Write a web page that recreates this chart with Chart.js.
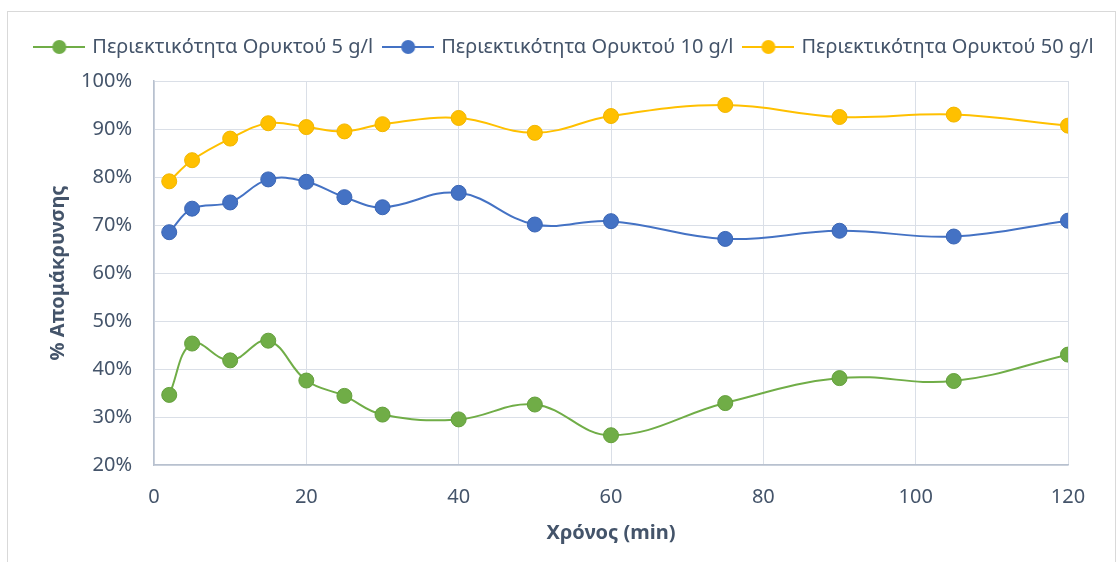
<!DOCTYPE html>
<html>
<head>
<meta charset="utf-8">
<script src="https://cdn.jsdelivr.net/npm/chart.js@4.4.1/dist/chart.umd.min.js"></script>
<style>
  html, body { margin: 0; padding: 0; background: #fff; }
  #wrap { position: relative; width: 1118px; height: 562px; }
</style>
</head>
<body>
<div id="wrap"><canvas id="chart"></canvas></div>
<script>
// time in minutes
const times = [2, 5, 10, 15, 20, 25, 30, 40, 50, 60, 75, 90, 105, 120];
// % removal for each mineral content
const removal5 = [34.6, 45.3, 41.8, 45.9, 37.6, 34.4, 30.5, 29.5, 32.6, 26.2, 32.9, 38.1, 37.5, 43.0];
const removal10 = [68.5, 73.4, 74.7, 79.5, 79.0, 75.8, 73.7, 76.7, 70.1, 70.8, 67.1, 68.8, 67.6, 70.9];
const removal50 = [79.1, 83.5, 88.0, 91.2, 90.4, 89.5, 91.0, 92.3, 89.2, 92.7, 95.0, 92.5, 93.0, 90.7];
const seriesNames = ['Περιεκτικότητα Ορυκτού 5 g/l', 'Περιεκτικότητα Ορυκτού 10 g/l', 'Περιεκτικότητα Ορυκτού 50 g/l'];
const seriesColors = ['#70AD47', '#4472C4', '#FFC000'];
const seriesBorders = ['#64A03C', '#3B66B5', '#F2B600'];

const textColor = '#44546A';
const fontFamily = "'Noto Sans', sans-serif";

// little line + marker icon for the legend
function legendIcon(color) {
  const c = document.createElement('canvas');
  c.width = 52;
  c.height = 16;
  const g = c.getContext('2d');
  g.strokeStyle = color;
  g.lineWidth = 2;
  g.beginPath();
  g.moveTo(0, 8);
  g.lineTo(52, 8);
  g.stroke();
  g.fillStyle = color;
  g.beginPath();
  g.arc(26, 8, 7, 0, Math.PI * 2);
  g.fill();
  return c;
}

const toPoints = (vals) => vals.map((v, i) => ({ x: times[i], y: v }));
const allValues = [removal5, removal10, removal50];

const datasets = allValues.map((vals, i) => ({
  label: seriesNames[i],
  data: toPoints(vals),
  borderColor: seriesColors[i],
  backgroundColor: seriesColors[i],
  pointBackgroundColor: seriesColors[i],
  pointBorderColor: seriesBorders[i],
  pointBorderWidth: 1,
  pointRadius: 7.5,
  pointHoverRadius: 7.5,
  borderWidth: 2,
  tension: 0.4,
  yAxisID: 'y',
}));

const frame = {
  id: 'frame',
  beforeDraw(chart) {
    const ctx = chart.ctx;
    ctx.save();
    ctx.fillStyle = '#fff';
    ctx.fillRect(0, 0, chart.width, chart.height);
    ctx.strokeStyle = '#D9D9D9';
    ctx.lineWidth = 1;
    ctx.strokeRect(7.5, 11.5, 1108, 560);
    ctx.restore();
  }
};

// fixed legend band so the plot starts at the same height as the original
const legendSpace = {
  id: 'legendSpace',
  beforeInit(chart) {
    const fit = chart.legend.fit;
    chart.legend.fit = function () {
      fit.call(this);
      this.height = 56;
    };
  }
};

new Chart(document.getElementById('chart'), {
  type: 'line',
  data: { datasets: datasets },
  plugins: [frame, legendSpace],
  options: {
    responsive: true,
    maintainAspectRatio: false,
    animation: false,
    layout: { padding: { left: 20, right: 8, top: 25, bottom: 10 } },
    plugins: {
      tooltip: { enabled: false },
      legend: {
        position: 'top',
        labels: {
          color: textColor,
          font: { family: fontFamily, size: 20 },
          usePointStyle: true,
          pointStyleWidth: 46,
          padding: 12,
          generateLabels(chart) {
            const items = Chart.defaults.plugins.legend.labels.generateLabels(chart);
            items.forEach((it, i) => { it.pointStyle = legendIcon(seriesColors[i]); });
            return items;
          }
        }
      }
    },
    scales: {
      x: {
        type: 'linear',
        min: 0,
        max: 120,
        ticks: {
          stepSize: 20,
          color: textColor,
          font: { family: fontFamily, size: 20 },
          padding: 20,
        },
        grid: { color: '#DADFE7', drawTicks: false },
        border: { color: '#B8C1CF', width: 1.5 },
        title: {
          display: true,
          text: 'Χρόνος (min)',
          color: textColor,
          font: { family: fontFamily, size: 20, weight: 'bold' },
          padding: { top: 7, bottom: 7 },
        },
        afterFit(scale) { scale.height = 87; }
      },
      y: {
        min: 20,
        max: 100,
        ticks: {
          stepSize: 10,
          color: textColor,
          font: { family: fontFamily, size: 20 },
          padding: 22,
          callback: (v) => v + '%',
        },
        grid: { color: '#DADFE7', drawTicks: false },
        border: { color: '#B8C1CF', width: 1.5 },
        title: {
          display: true,
          text: '% Απομάκρυνσης',
          color: textColor,
          font: { family: fontFamily, size: 20, weight: 'bold' },
          padding: { top: 26, bottom: 0 },
        },
        afterFit(scale) { scale.width = 134; }
      },
      y2: {
        position: 'right',
        display: true,
        ticks: { display: false },
        grid: { display: false, drawTicks: false },
        border: { display: false },
        afterFit(scale) { scale.width = 42; }
      }
    }
  }
});
</script>
</body>
</html>
